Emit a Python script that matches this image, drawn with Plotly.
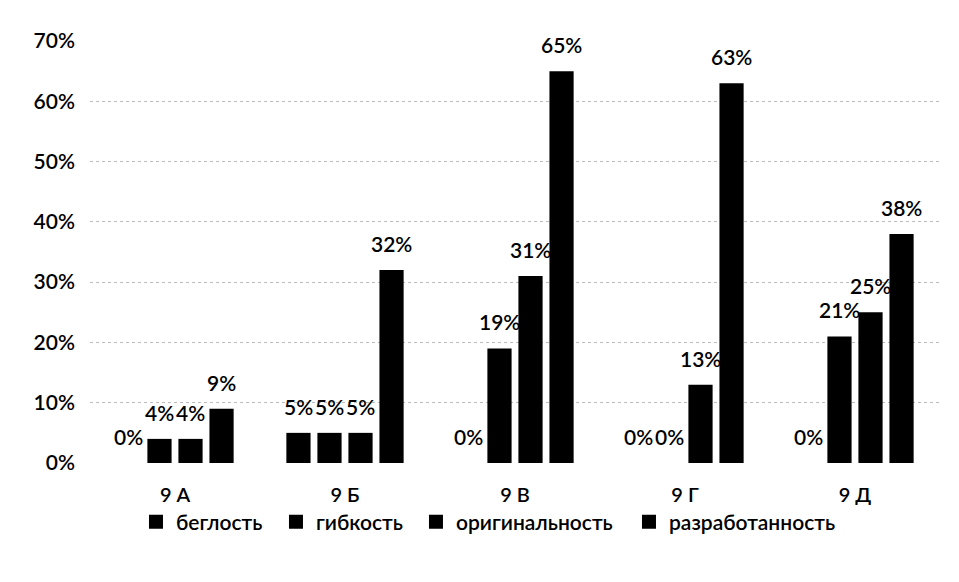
import plotly.graph_objects as go

categories = ["9 А", "9 Б", "9 В", "9 Г", "9 Д"]
series_names = ["беглость", "гибкость", "оригинальность", "разработанность"]
beglost = [0.00, 0.05, 0.00, 0.00, 0.00]
gibkost = [0.04, 0.05, 0.19, 0.00, 0.21]
originalnost = [0.04, 0.05, 0.31, 0.13, 0.25]
razrabotannost = [0.09, 0.32, 0.65, 0.63, 0.38]
y_ticks = [0, 0.1, 0.2, 0.3, 0.4, 0.5, 0.6, 0.7]

series_values = [beglost, gibkost, originalnost, razrabotannost]

FONT = "Lato"
WEIGHT = 600
BARGAP = 0.27
PLOT_W = 850  # plot-area width in px (959 - margins)
slot = PLOT_W / len(categories) * (1 - BARGAP) / len(series_names)
legend_x = [0.0541, 0.2188, 0.3835, 0.6341]

fig = go.Figure()
legend_layout = {}
for i, (name, vals) in enumerate(zip(series_names, series_values)):
    fig.add_trace(go.Bar(
        x=categories, y=vals, name=name, showlegend=False,
        marker=dict(color="black", line=dict(width=0)),
    ))
    lg = "legend" if i == 0 else f"legend{i+1}"
    fig.add_trace(go.Scatter(
        x=[None], y=[None], mode="markers", name=name, legend=lg,
        marker=dict(symbol="square", size=14, color="black"),
    ))
    legend_layout[lg] = dict(orientation="h", x=legend_x[i], xanchor="left",
                             y=-0.14, yanchor="middle", itemwidth=30,
                             font=dict(family=FONT, size=21, weight=WEIGHT, color="black"),
                             bgcolor="rgba(0,0,0,0)")
    shift = (i - (len(series_names) - 1) / 2) * slot
    for c, v in zip(categories, vals):
        fig.add_annotation(
            x=c, y=v, xref="x", yref="y", text=f"{round(v*100)}%",
            showarrow=False, xshift=shift, yshift=12, yanchor="bottom",
            font=dict(family=FONT, size=21, color="black", weight=WEIGHT),
        )

fig.update_layout(
    barmode="group",
    bargap=BARGAP,
    bargroupgap=0.22,
    width=959, height=582,
    margin=dict(l=82, r=27, t=33, b=127),
    paper_bgcolor="white", plot_bgcolor="white",
    font=dict(family=FONT, size=21, color="black", weight=WEIGHT),
    showlegend=True,
    **legend_layout,
)
fig.update_yaxes(range=[0, 0.7], tickvals=y_ticks, tickformat=".0%",
                 showgrid=True, gridcolor="#bbbbbb", griddash="dot", gridwidth=1,
                 zeroline=False, showline=False, ticks="", ticklen=0,
                 ticklabelstandoff=14)
fig.update_xaxes(showgrid=False, showline=False, ticks="", tickfont=dict(size=20),
                 ticklabelstandoff=18)

fig.write_html("out.html")
